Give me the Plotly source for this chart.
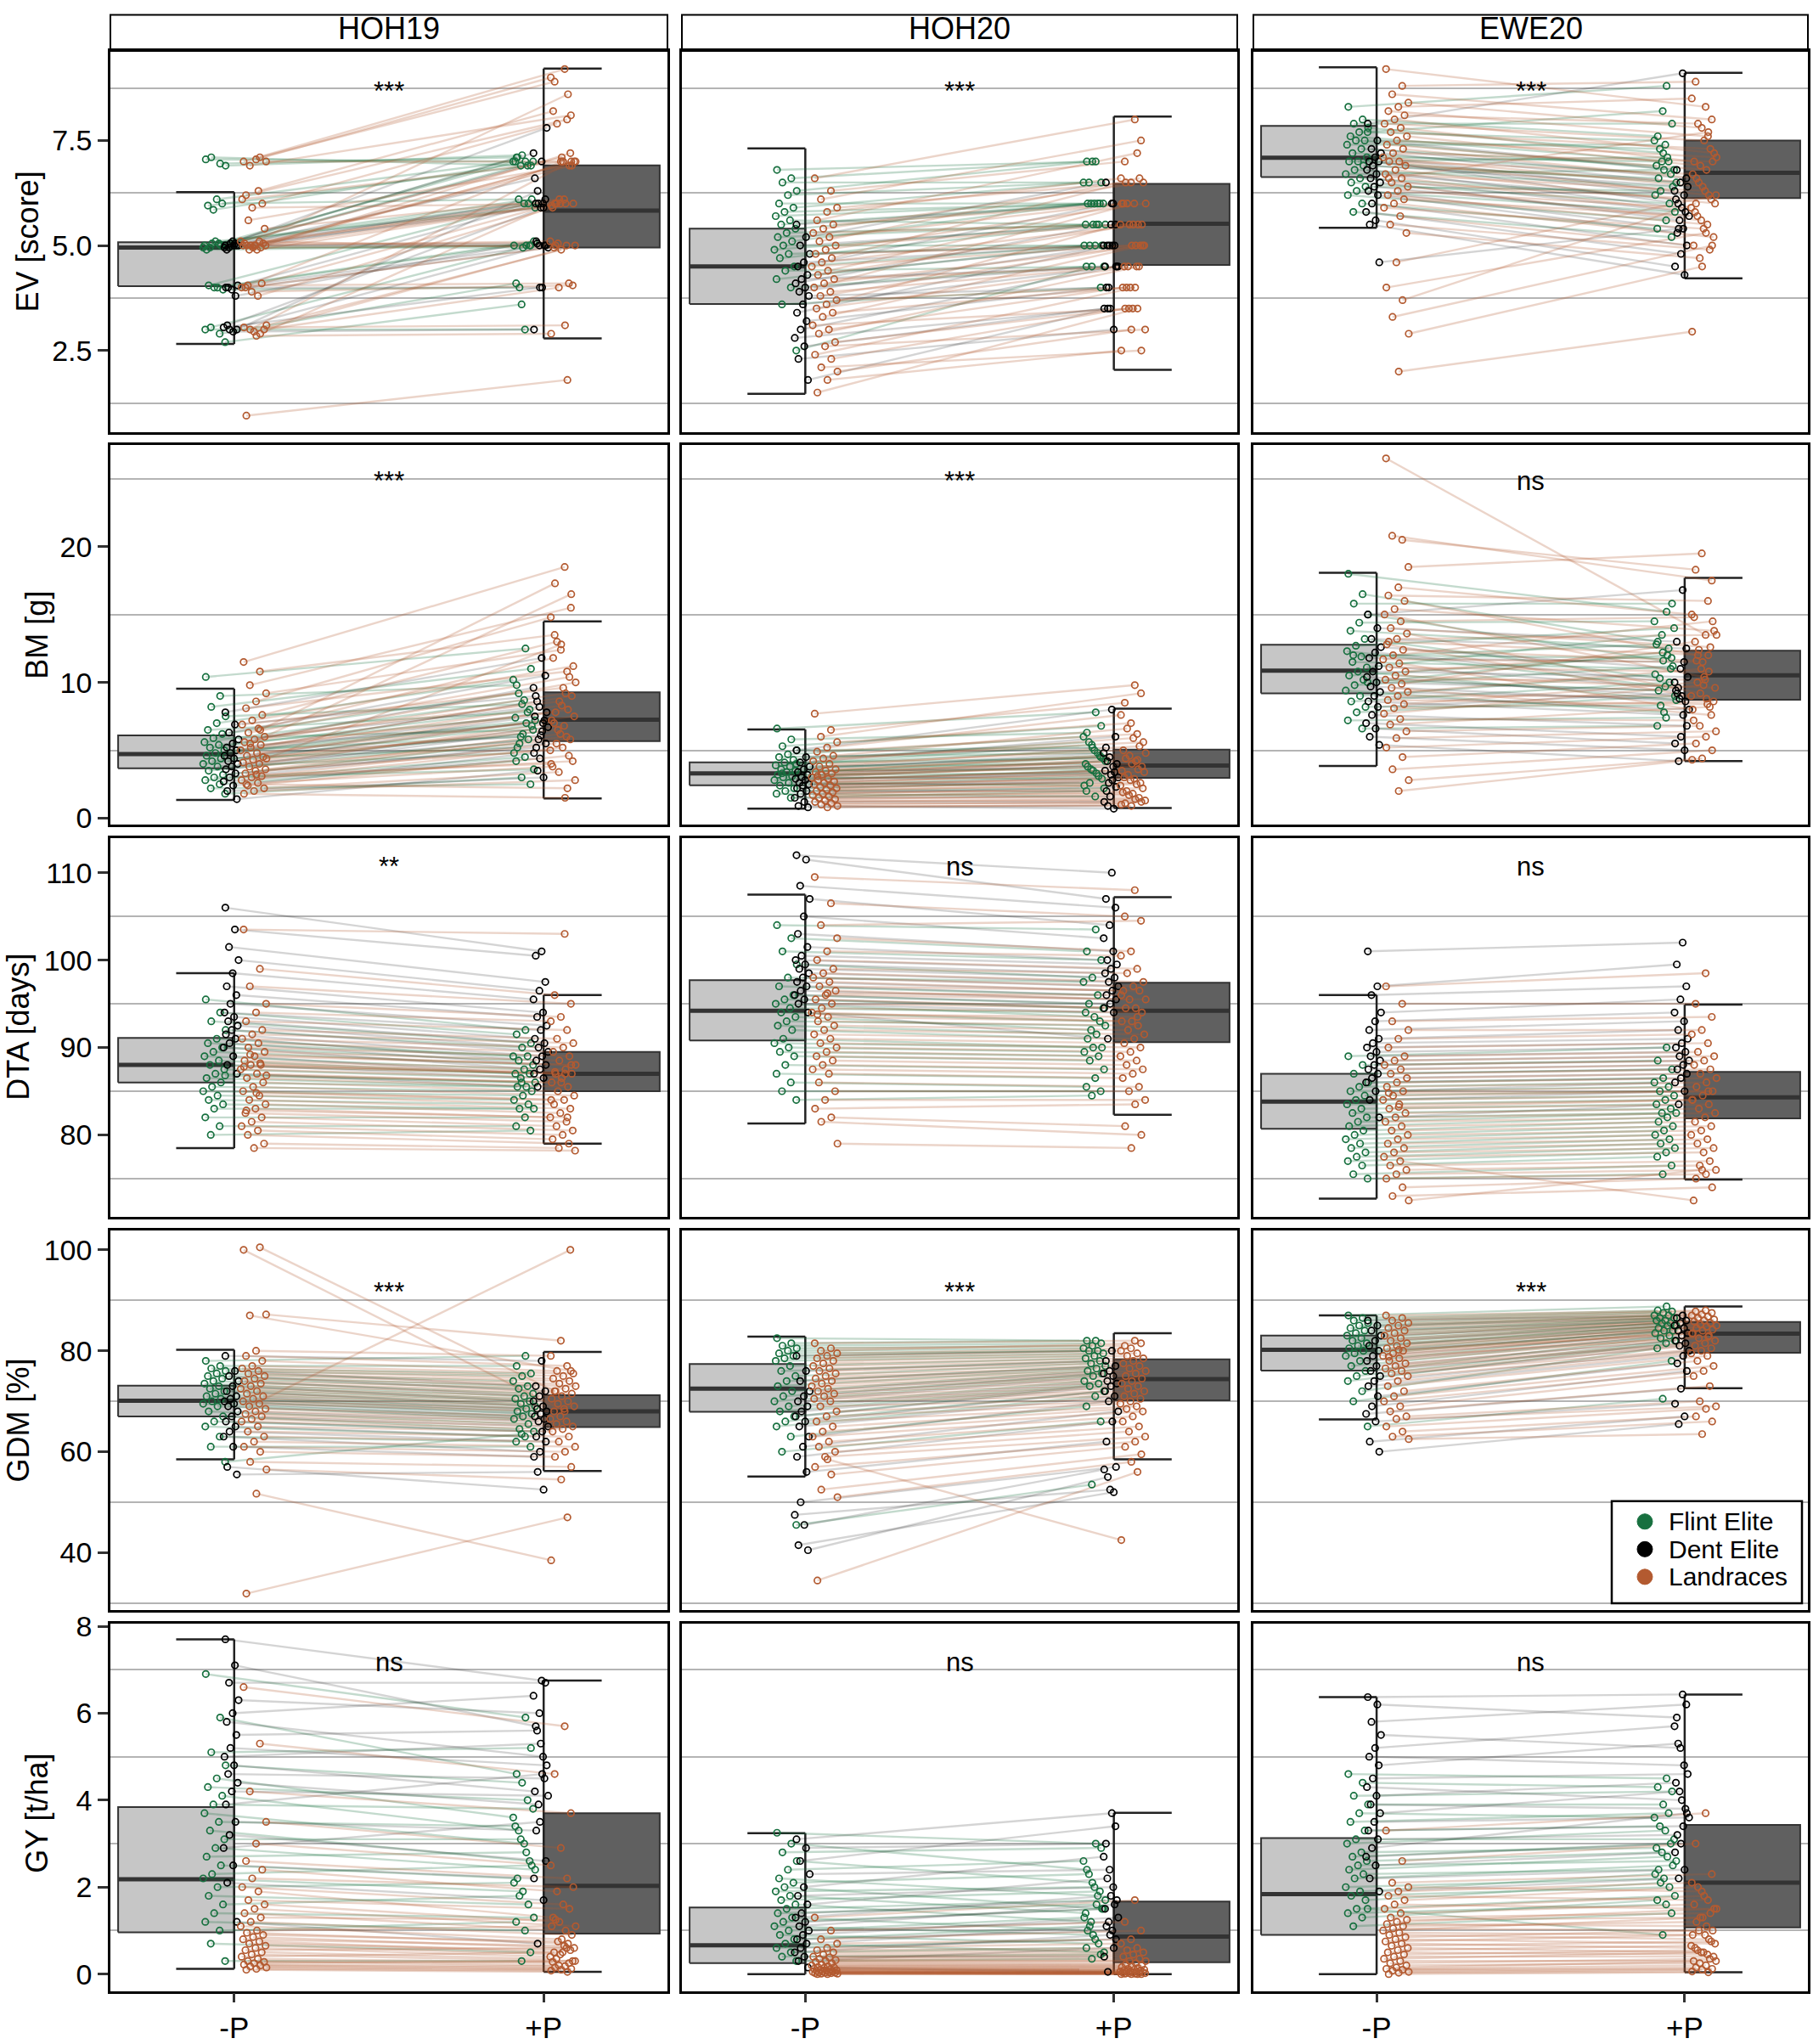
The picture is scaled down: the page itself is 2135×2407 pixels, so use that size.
import plotly.graph_objects as go

# canvas in pixels
W, H = 2135, 2407

ENVS = ["HOH19", "HOH20", "EWE20"]
TRAITS = ["EV", "BM", "DTA", "GDM", "GY"]
Y_TITLES = ["EV [score]", "BM [g]", "DTA [days]", "GDM [%]", "GY [t/ha]"]
GROUPS = ["Flint Elite", "Dent Elite", "Landraces"]
X_LABELS = ["-P", "+P"]

SIG_LABELS = [["***", "***", "***"], ["***", "***", "ns"], ["**", "ns", "ns"],
              ["***", "***", "***"], ["ns", "ns", "ns"]]
SIG_Y = [8.67, 24.8, 110.7, 91.6, 7.17]

Y_TICKS = [[2.5, 5.0, 7.5], [0, 10, 20], [80, 90, 100, 110], [40, 60, 80, 100], [0, 2, 4, 6, 8]]
Y_TICKTEXT = [["2.5", "5.0", "7.5"], ["0", "10", "20"], ["80", "90", "100", "110"],
              ["40", "60", "80", "100"], ["0", "2", "4", "6", "8"]]
Y_GRID = [[1.25, 3.75, 6.25, 8.75], [5, 15, 25], [75, 85, 95, 105], [30, 50, 70, 90], [1, 3, 5, 7]]
Y_RANGES = [[0.56, 9.63], [-0.5, 27.5], [70.6, 114.0], [28.65, 103.8], [-0.39, 8.06]]

# box statistics [lower whisker, q1, median, q3, upper whisker] for (-P, +P), per environment
EV_BOX = [([2.66, 4.03, 4.95, 5.08, 6.27], [2.79, 4.95, 5.83, 6.91, 9.21]),
          ([1.47, 3.61, 4.50, 5.40, 7.31], [2.04, 4.54, 5.52, 6.47, 8.07]),
          ([5.42, 6.63, 7.09, 7.85, 9.24], [4.22, 6.13, 6.73, 7.50, 9.11])]
BM_BOX = [([1.34, 3.68, 4.72, 6.10, 9.54], [1.46, 5.68, 7.25, 9.27, 14.49]),
          ([0.71, 2.42, 3.30, 4.11, 6.54], [0.75, 2.97, 3.88, 5.05, 8.06]),
          ([3.84, 9.20, 10.87, 12.77, 18.08], [4.20, 8.73, 10.52, 12.34, 17.70])]
DTA_BOX = [([78.5, 86.0, 88.0, 91.1, 98.5], [79.0, 85.0, 87.0, 89.5, 96.0]),
           ([81.3, 90.8, 94.2, 97.7, 107.5], [82.3, 90.6, 94.2, 97.4, 107.2]),
           ([72.7, 80.7, 83.8, 87.0, 96.0], [74.9, 81.9, 84.3, 87.2, 94.9])]
GDM_BOX = [([58.5, 67.0, 70.1, 73.1, 80.2], [56.2, 64.9, 68.0, 71.2, 79.8]),
           ([55.1, 67.9, 72.5, 77.4, 82.8], [58.5, 70.2, 74.4, 78.3, 83.5]),
           ([66.4, 76.1, 80.2, 83.0, 87.0], [72.6, 79.6, 83.4, 85.7, 88.8])]
GY_BOX = [([0.12, 0.96, 2.18, 3.84, 7.70], [0.05, 0.93, 2.03, 3.70, 6.75]),
          ([0.0, 0.25, 0.66, 1.53, 3.24], [0.0, 0.27, 0.86, 1.67, 3.71]),
          ([0.0, 0.90, 1.84, 3.13, 6.37], [0.04, 1.07, 2.10, 3.43, 6.43])]

# genotype values: (values under -P, values under +P), same order
EV_HOH19_FLINT = ([7.05, 6.95, 7.1, 6.9, 6.1, 5.95, 6.0, 5.85, 5.0, 5.05, 4.95, 5.0, 5.1, 4.9, 5.0, 5.05, 4.95, 4.0, 4.05, 3.95, 4.0, 3.0, 2.9, 3.05, 2.7],
                  [7.0, 7.1, 6.9, 7.15, 7.0, 6.9, 6.1, 7.0, 6.0, 7.0, 5.0, 6.9, 5.9, 5.0, 7.1, 6.1, 4.95, 5.0, 6.0, 4.0, 5.1, 3.0, 4.1, 5.0, 3.6])
EV_HOH19_DENT = ([5.0, 5.05, 4.95, 5.0, 5.1, 4.9, 5.0, 5.05, 4.95, 5.0, 4.0, 4.05, 3.95, 4.0, 3.8, 3.0, 3.05, 2.95, 3.1, 3.0],
                 [7.0, 6.0, 6.1, 5.0, 7.2, 6.0, 5.05, 7.8, 5.9, 6.6, 5.0, 6.0, 4.95, 4.0, 5.1, 5.0, 4.0, 3.0, 5.9, 6.3])
EV_HOH19_LAND = ([7.0, 7.1, 6.9, 7.0, 7.05, 6.2, 6.0, 5.9, 6.1, 6.3, 5.6, 5.4, 5.0, 5.05, 4.95, 5.0, 5.1, 4.9, 5.0, 5.05, 4.95, 5.0, 5.1, 4.9, 5.0, 5.0, 4.0, 4.1, 3.9, 4.0, 3.8, 4.05, 3.0, 2.95, 3.05, 2.9, 3.0, 3.1, 2.85, 0.95],
                 [9.2, 8.9, 8.1, 7.0, 9.0, 8.0, 7.9, 6.0, 7.0, 8.2, 6.9, 6.1, 7.0, 6.0, 5.0, 6.9, 7.1, 5.95, 8.6, 5.05, 7.0, 6.1, 4.95, 7.2, 6.0, 5.1, 5.0, 6.0, 4.05, 7.0, 5.9, 4.1, 4.0, 5.0, 3.1, 6.0, 7.0, 4.9, 2.9, 1.8])

EV_HOH20_FLINT = ([6.8, 6.6, 6.5, 6.3, 6.2, 6.0, 5.9, 5.8, 5.7, 5.6, 5.5, 5.4, 5.3, 5.2, 5.1, 5.0, 4.9, 4.8, 4.7, 4.5, 4.4, 4.2, 4.0, 3.6, 2.5],
                  [7.0, 7.0, 6.5, 7.0, 6.5, 6.0, 6.5, 6.0, 6.0, 5.5, 6.0, 6.0, 5.5, 5.5, 6.0, 5.0, 5.5, 5.0, 5.5, 5.0, 4.5, 5.0, 4.5, 4.0, 4.5])
EV_HOH20_DENT = ([5.5, 5.2, 5.0, 4.8, 4.6, 4.5, 4.3, 4.2, 4.1, 4.0, 3.9, 3.8, 3.6, 3.4, 3.2, 3.0, 2.8, 2.6, 2.3, 1.8],
                 [6.0, 6.5, 5.5, 5.0, 5.0, 6.0, 5.0, 4.5, 5.5, 4.5, 5.0, 4.0, 4.5, 5.0, 4.0, 4.5, 3.5, 3.5, 3.0, 3.5])
EV_HOH20_LAND = ([6.6, 6.3, 6.1, 5.9, 5.8, 5.6, 5.5, 5.4, 5.3, 5.2, 5.1, 5.0, 4.9, 4.8, 4.7, 4.6, 4.5, 4.4, 4.3, 4.2, 4.1, 4.0, 3.9, 3.8, 3.7, 3.6, 3.5, 3.4, 3.3, 3.1, 3.0, 2.9, 2.7, 2.6, 2.4, 2.3, 2.1, 2.0, 1.8, 1.5],
                 [8.0, 7.0, 7.5, 6.5, 6.6, 7.2, 6.0, 6.5, 5.5, 6.0, 6.6, 5.5, 6.0, 5.0, 6.5, 5.5, 5.0, 6.0, 5.5, 4.5, 5.0, 6.0, 4.5, 5.0, 4.0, 5.5, 4.5, 4.0, 5.0, 3.5, 4.0, 4.5, 3.5, 3.0, 4.0, 3.5, 2.5, 3.0, 2.5, 3.5])

EV_EWE20_FLINT = ([8.3, 8.0, 7.9, 7.8, 7.7, 7.6, 7.5, 7.5, 7.4, 7.3, 7.2, 7.1, 7.0, 7.0, 6.9, 6.8, 6.7, 6.6, 6.5, 6.4, 6.3, 6.2, 6.0, 5.8, 7.7],
                  [8.8, 7.6, 7.9, 7.2, 7.5, 7.0, 7.3, 6.8, 7.4, 6.9, 6.7, 7.0, 6.5, 7.1, 6.6, 6.4, 6.8, 6.2, 6.0, 6.3, 5.8, 5.6, 5.4, 5.2, 8.2])
EV_EWE20_DENT = ([7.9, 7.5, 7.3, 7.2, 7.1, 7.0, 7.0, 6.9, 6.8, 6.7, 6.6, 6.5, 6.4, 6.3, 6.2, 6.0, 5.8, 5.6, 5.5, 4.6],
                 [9.1, 6.8, 6.6, 6.5, 6.3, 6.2, 6.0, 6.4, 5.9, 6.1, 5.8, 5.6, 5.7, 5.4, 5.3, 5.0, 4.8, 4.5, 4.3, 5.4])
EV_EWE20_LAND = ([9.2, 8.8, 8.6, 8.4, 8.3, 8.2, 8.1, 8.0, 7.9, 7.8, 7.7, 7.6, 7.5, 7.4, 7.3, 7.2, 7.1, 7.0, 7.0, 6.9, 6.8, 6.7, 6.6, 6.5, 6.4, 6.3, 6.2, 6.1, 6.0, 5.9, 5.7, 5.5, 5.3, 4.6, 4.0, 3.7, 3.3, 2.9, 2.0, 6.6],
                 [8.3, 8.9, 8.0, 7.8, 8.5, 7.6, 7.9, 7.2, 7.5, 7.0, 7.3, 6.9, 7.1, 6.8, 6.6, 7.0, 6.4, 6.7, 6.2, 6.5, 6.0, 6.3, 5.8, 6.1, 5.6, 5.9, 5.5, 5.7, 5.2, 5.4, 5.0, 4.9, 4.7, 6.2, 5.3, 6.0, 5.0, 4.5, 2.95, 7.7])

BM_HOH19_FLINT = ([10.4, 9.0, 8.2, 7.5, 7.0, 6.5, 6.2, 5.9, 5.6, 5.4, 5.2, 5.0, 4.8, 4.6, 4.4, 4.2, 4.0, 3.8, 3.5, 3.2, 3.0, 2.8, 2.5, 2.2, 1.8],
                  [12.5, 9.8, 11.0, 8.4, 10.2, 7.8, 9.2, 6.5, 8.7, 7.4, 8.0, 6.0, 7.2, 7.0, 5.2, 6.8, 6.2, 4.8, 5.8, 5.5, 3.6, 4.5, 4.2, 2.5, 3.0])
BM_HOH19_DENT = ([7.8, 6.9, 6.3, 5.8, 5.5, 5.2, 5.0, 4.8, 4.6, 4.4, 4.2, 4.0, 3.8, 3.6, 3.3, 3.0, 2.7, 2.4, 2.0, 1.4],
                 [11.8, 9.0, 10.5, 8.2, 9.6, 7.0, 8.6, 7.8, 6.1, 7.5, 7.2, 5.8, 6.7, 6.4, 5.2, 5.5, 4.4, 4.8, 3.0, 3.5])
BM_HOH19_LAND = ([11.5, 10.8, 9.8, 9.2, 8.6, 8.1, 7.6, 7.2, 6.9, 6.6, 6.3, 6.0, 5.8, 5.6, 5.4, 5.2, 5.0, 4.8, 4.6, 4.5, 4.3, 4.1, 4.0, 3.8, 3.6, 3.5, 3.3, 3.1, 3.0, 2.8, 2.6, 2.4, 2.2, 2.0, 1.8, 6.5, 5.5, 4.4, 3.2, 2.5],
                 [18.5, 13.5, 15.5, 12.4, 14.8, 10.8, 13.0, 11.2, 9.6, 11.8, 10.4, 8.6, 10.0, 9.2, 7.8, 9.0, 8.3, 7.2, 8.0, 6.5, 7.5, 6.8, 7.0, 5.8, 6.2, 5.0, 6.0, 5.5, 4.2, 5.2, 3.8, 4.6, 3.4, 2.8, 1.5, 17.3, 16.5, 12.8, 4.0, 2.2])

BM_HOH20_FLINT = ([6.6, 5.8, 5.3, 5.0, 4.7, 4.5, 4.3, 4.1, 3.9, 3.8, 3.6, 3.5, 3.4, 3.2, 3.1, 3.0, 2.8, 2.6, 2.4, 2.2, 2.0, 1.8, 1.5, 3.3, 4.0],
                  [7.8, 6.3, 6.8, 5.2, 6.0, 4.8, 5.6, 4.4, 5.0, 4.0, 4.6, 3.6, 4.2, 3.3, 3.8, 2.9, 3.5, 2.4, 3.1, 2.6, 2.2, 1.6, 2.0, 4.5, 5.4])
BM_HOH20_DENT = ([5.0, 4.5, 4.1, 3.8, 3.6, 3.4, 3.2, 3.0, 2.9, 2.8, 2.6, 2.5, 2.4, 2.2, 2.0, 1.8, 1.5, 1.2, 0.9, 0.8],
                 [8.0, 5.2, 6.0, 4.5, 4.8, 3.8, 4.2, 4.0, 3.2, 3.5, 3.4, 2.6, 3.0, 2.8, 2.0, 2.3, 1.6, 1.2, 0.7, 0.9])
BM_HOH20_LAND = ([7.7, 6.5, 6.0, 5.6, 5.2, 4.9, 4.6, 4.4, 4.2, 4.0, 3.8, 3.6, 3.5, 3.4, 3.3, 3.2, 3.0, 2.9, 2.8, 2.7, 2.6, 2.5, 2.4, 2.3, 2.2, 2.1, 2.0, 1.9, 1.8, 1.7, 1.6, 1.5, 1.4, 1.3, 1.2, 1.1, 1.0, 0.9, 0.8, 3.1],
                 [9.8, 8.5, 9.2, 7.0, 7.6, 6.2, 6.6, 5.6, 5.9, 5.0, 5.3, 4.6, 4.8, 4.2, 4.4, 3.8, 4.0, 3.5, 3.6, 3.2, 3.4, 2.9, 3.0, 2.6, 2.8, 2.4, 2.5, 2.0, 2.2, 1.8, 1.9, 1.5, 1.7, 1.3, 1.4, 1.1, 1.2, 0.9, 1.0, 4.3])

BM_EWE20_FLINT = ([18.0, 16.5, 15.8, 15.0, 14.4, 13.8, 13.2, 12.7, 12.3, 11.9, 11.5, 11.1, 10.8, 10.5, 10.2, 9.8, 9.4, 9.0, 8.6, 8.2, 7.8, 7.2, 6.6, 12.0, 10.0],
                  [15.2, 13.0, 15.8, 11.6, 14.5, 12.5, 10.3, 14.0, 9.7, 12.8, 11.0, 13.5, 8.7, 12.0, 9.4, 11.2, 7.8, 10.6, 10.0, 8.3, 9.0, 7.4, 6.8, 11.8, 12.2])
BM_EWE20_DENT = ([15.0, 14.0, 13.2, 12.6, 12.2, 11.8, 11.2, 10.8, 10.4, 10.0, 9.7, 9.3, 9.0, 8.6, 8.2, 7.6, 7.0, 6.6, 6.0, 5.4],
                 [16.8, 13.0, 12.5, 11.0, 10.0, 11.5, 9.6, 10.4, 9.0, 9.4, 8.6, 8.8, 8.0, 7.6, 9.2, 6.8, 6.0, 5.5, 5.0, 4.2])
BM_EWE20_LAND = ([26.5, 20.5, 20.8, 18.5, 17.0, 16.4, 16.0, 15.4, 15.0, 14.5, 14.0, 13.6, 13.2, 12.8, 12.4, 12.0, 11.7, 11.4, 11.1, 10.8, 10.5, 10.2, 9.9, 9.6, 9.3, 9.0, 8.7, 8.4, 8.1, 7.7, 7.3, 6.9, 6.4, 5.9, 5.2, 4.5, 3.6, 2.8, 2.0, 13.0],
                 [13.5, 18.3, 17.5, 19.5, 15.0, 16.0, 12.0, 13.8, 10.4, 14.8, 12.6, 9.2, 13.5, 8.8, 11.6, 14.5, 11.5, 8.0, 10.8, 12.4, 9.6, 10.2, 13.0, 7.6, 11.0, 9.0, 8.4, 10.0, 8.6, 9.8, 7.2, 8.2, 6.8, 6.4, 6.0, 5.5, 5.0, 4.4, 4.3, 12.0])

DTA_HOH19_FLINT = ([95.5, 94, 93, 92, 91, 90.5, 90, 89.5, 89, 88.5, 88, 87.5, 87, 86.5, 86, 85.5, 85, 84.5, 84, 83.5, 83, 82, 81, 80, 86.8],
                   [92, 91.5, 90.5, 90, 89, 89, 88.5, 88, 87.5, 87, 87, 86.5, 86, 85.5, 85.5, 85, 84.5, 84, 83.5, 83, 83, 82, 81, 80.5, 86])
DTA_HOH19_DENT = ([106, 103.5, 101.5, 100, 98.5, 97, 96, 95, 94, 93.5, 93, 92.5, 92, 91.5, 91, 90.5, 90, 89, 88, 87],
                  [101, 100.5, 97.5, 96.5, 95.5, 94, 93.5, 92.5, 92, 91, 90.5, 90, 89.5, 89, 88.5, 88, 87.5, 87, 86.5, 85.5])
DTA_HOH19_LAND = ([103.5, 99, 97, 95, 94, 93, 92, 91.5, 91, 90.5, 90, 89.5, 89, 88.5, 88, 88, 87.5, 87, 86.5, 86, 85.5, 85, 84.5, 84, 83.5, 83, 82.5, 82, 81.5, 81, 80.5, 80, 79, 78.5, 87.8, 88.2, 89.2, 86.8, 84.8, 82.8],
                  [103, 96, 95, 93.5, 93, 92, 91, 90.5, 90, 89.5, 89, 88.5, 88, 87.5, 87, 87, 86.5, 86, 85.5, 85, 84.5, 84, 83.5, 83, 82.5, 82, 81.5, 81, 80.5, 80, 79.5, 79, 78.5, 78.2, 87, 87.2, 88, 86, 84, 82])

DTA_HOH20_FLINT = ([104, 102.5, 101, 99.5, 98, 97, 96, 95.5, 95, 94.5, 94, 93.5, 93, 92.5, 92, 91, 90.5, 90, 89.5, 89, 88, 87, 86, 85, 84],
                   [103.5, 101, 100, 98, 97.5, 96, 95, 94.5, 93.5, 94, 93, 92, 92.5, 91.5, 91, 90, 90, 89.5, 89, 88.5, 87.5, 86.5, 85.5, 85, 84.5])
DTA_HOH20_DENT = ([112, 111.5, 108.5, 107, 105, 103, 101.5, 100.5, 100, 99.5, 99, 98.5, 98, 97.5, 97, 96.5, 96, 95.5, 95, 94],
                  [110, 107, 106, 104, 102.5, 101, 100, 99.5, 99, 98.5, 98, 97.5, 97, 96.5, 96, 95.5, 95, 94.5, 94, 91])
DTA_HOH20_LAND = ([109.5, 106.5, 104, 102.5, 101, 100, 99, 98.5, 98, 97.5, 97, 96.5, 96, 95.5, 95, 94.5, 94, 93.5, 93, 92.5, 92, 91.5, 91, 90.5, 90, 89.5, 89, 88.5, 88, 87.5, 87, 86, 85, 84, 83, 82, 81.5, 79, 96.2, 93.8],
                  [108, 105, 104.5, 101, 100.5, 99, 98.5, 97.5, 97, 96.5, 96.5, 95.5, 95.5, 94.5, 94.5, 94, 93, 93, 92.5, 92, 91.5, 91, 90.5, 90, 89.5, 89, 88.5, 88, 87.5, 87, 86.5, 85.5, 85, 84, 83.5, 81, 80, 78.5, 96, 93.5])

DTA_EWE20_FLINT = ([89, 88, 87, 86, 85.5, 85, 84.5, 84, 83.5, 83, 82.5, 82, 81.5, 81, 80.5, 80, 79.5, 79, 78.5, 78, 77.5, 77, 76.5, 75.5, 75],
                   [90, 88.5, 87.5, 86.5, 86, 85.5, 85, 84.5, 84, 83.5, 83, 82.5, 82.5, 82, 81.5, 81, 80.5, 80, 79.5, 79, 78.5, 78, 77.5, 76.5, 75.5])
DTA_EWE20_DENT = ([101, 97, 96, 94, 93, 92, 91, 90.5, 90, 89.5, 89, 88.5, 88, 87.5, 87, 86.5, 86, 85, 84, 82],
                  [102, 99.5, 97, 95.5, 94, 93, 92, 91, 90.5, 90, 89.5, 89, 88.5, 88, 87.5, 87, 86.5, 86, 85, 83.5])
DTA_EWE20_LAND = ([97, 95, 93, 92, 91, 90, 89, 88.5, 88, 87.5, 87, 86.5, 86, 85.5, 85, 84.5, 84, 83.5, 83, 82.5, 82, 81.5, 81, 80.5, 80, 79.5, 79, 78.5, 78, 77.5, 77, 76.5, 76, 75.5, 75, 74, 73, 72.5, 83.2, 84.8],
                  [98.5, 95, 93.5, 92, 91.5, 90.5, 89.5, 89, 88.5, 88, 87.5, 87, 86.5, 86, 85.5, 85, 84.5, 84, 83.5, 83, 82.5, 82, 81.5, 81, 80.5, 80, 79.5, 79, 78.5, 78, 72.5, 77, 76.5, 76, 75.5, 75, 74, 76, 84, 85])

GDM_HOH19_FLINT = ([78, 77, 76.5, 76, 75.5, 75, 74.5, 74, 73.5, 73, 72.5, 72, 71.5, 71, 70.5, 70, 69.5, 69, 68, 67, 66, 65, 63, 61, 58],
                   [79, 77, 75.5, 75, 74, 73, 72.5, 71.5, 71, 70.5, 70, 69.5, 69, 68.5, 68, 67.5, 67, 66.5, 65.5, 64.5, 64, 63, 62, 61, 63.5])
GDM_HOH19_DENT = ([79, 76, 75, 74, 73, 72, 71, 70.5, 70, 69.5, 69, 68, 67, 66, 65, 64, 63, 61, 57, 55.5],
                  [78, 73, 72, 71, 70, 69, 68.5, 68, 67.5, 67, 66.5, 66, 65, 64, 63, 62, 60, 59, 52.5, 56])
GDM_HOH19_LAND = ([100, 100.5, 87, 87.2, 80, 79, 78, 77, 76.5, 76, 75.5, 75, 74.5, 74, 73.5, 73, 72.5, 72, 71.5, 71, 70.5, 70, 69.5, 69, 68.5, 68, 67.5, 67, 66.5, 66, 65, 64, 63, 62, 61, 60, 58, 56.5, 51.7, 31.9],
                  [68, 72, 76, 82, 79, 77, 76, 75.5, 75, 74.5, 74, 73.5, 73, 72.5, 72, 71.5, 71, 70.5, 70, 69.5, 69, 68.5, 68, 100, 67, 66.5, 66, 65.5, 65, 64.5, 64, 63, 62, 61, 60, 59, 57, 54.5, 38.5, 47])

GDM_HOH20_FLINT = ([82.5, 81.5, 81, 80.5, 80, 79.5, 79, 78.5, 78, 77, 76, 75, 74, 73, 72, 71, 70, 69, 68, 67, 66, 65, 63, 60, 45.5],
                   [82, 82, 81.5, 81, 80.5, 80, 80, 79.5, 79, 78.5, 78, 77.5, 77, 76.5, 76, 75.5, 75, 74, 73.5, 73, 72, 71, 69, 66, 53.5])
GDM_HOH20_DENT = ([79, 76, 74, 72, 71, 70, 69, 68, 67, 66, 65, 63, 61, 59, 56, 50, 47.5, 45.5, 41.5, 40.5],
                  [80, 78, 77, 76, 75.5, 75, 74, 73.5, 73, 72, 71, 70, 68, 66, 62, 57, 52.5, 56.5, 52, 55])
GDM_HOH20_LAND = ([81.5, 80.5, 80, 79.5, 79, 78.5, 78, 77.5, 77, 76.5, 76, 75.5, 75, 74.5, 74, 73.5, 73, 72.5, 72, 71.5, 71, 70.5, 70, 69, 68, 67, 66, 65, 64, 63, 62, 61, 60, 59, 57, 55.5, 52.5, 51, 58.5, 34.5],
                  [82, 81, 81.5, 80.5, 80, 79.5, 79, 78.5, 78, 77.5, 77, 76.5, 76, 75.5, 75, 74.5, 74, 73.5, 73, 72.5, 72, 71.5, 71, 70.5, 70, 69.5, 69, 68.5, 68, 67, 66, 65, 64, 63, 62, 61, 59.5, 58, 42.5, 56])

GDM_EWE20_FLINT = ([87, 86.5, 86, 85.5, 85, 84.5, 84, 83.5, 83, 82.5, 82, 81.5, 81, 80.5, 80, 79.5, 79, 78, 77, 76, 75, 74, 72, 70, 65],
                   [88.8, 88, 87.8, 87.5, 87, 87, 86.5, 86.5, 86, 86, 85.5, 85.5, 85, 85, 84.5, 84, 84, 83.5, 83, 82.5, 82, 81.5, 80.5, 78, 70.5])
GDM_EWE20_DENT = ([86, 85, 84, 83, 82, 81, 80, 79, 78, 77, 76, 75, 74, 73, 71, 69, 67.5, 66, 62, 60],
                  [87, 86.5, 86, 85.5, 85, 84.5, 84, 83.5, 83, 82, 81.5, 81, 80, 79, 77.5, 76, 72.5, 69.5, 67, 65.5])
GDM_EWE20_LAND = ([87, 86.5, 86, 85.5, 85, 84.5, 84, 83.5, 83, 82.5, 82, 81.5, 81, 80.5, 80, 79.5, 79, 78.5, 78, 77.5, 77, 76.5, 76, 75.5, 75, 74, 73, 72, 71, 70, 69, 68, 67, 66.5, 65, 64, 63, 62.5, 80.2, 78.8],
                  [88, 87.8, 87.5, 87.2, 87, 86.8, 86.5, 86.2, 86, 85.8, 85.5, 85.2, 85, 84.8, 84.5, 84.2, 84, 83.5, 83, 82.5, 82, 81.5, 81, 80.5, 80, 79.5, 79, 78, 77, 76, 75, 73, 70, 69, 68.5, 67, 66, 63.5, 83.4, 82.8])

GY_HOH19_FLINT = ([6.9, 5.9, 5.1, 4.8, 4.5, 4.3, 4.1, 3.9, 3.7, 3.5, 3.3, 3.1, 2.9, 2.7, 2.5, 2.3, 2.2, 2.0, 1.8, 1.6, 1.4, 1.2, 1.0, 0.7, 0.3],
                  [5.9, 4.6, 5.2, 4.4, 3.6, 4.0, 3.3, 3.8, 3.0, 3.4, 2.6, 3.1, 2.4, 2.8, 2.2, 2.5, 1.9, 2.1, 1.6, 1.8, 1.3, 1.0, 1.2, 0.5, 0.3])
GY_HOH19_DENT = ([7.7, 7.1, 6.7, 6.3, 6.0, 5.8, 5.5, 5.2, 5.0, 4.8, 4.6, 4.4, 4.2, 3.9, 3.5, 3.2, 2.9, 2.5, 2.1, 1.2],
                 [6.75, 5.7, 6.7, 6.0, 6.4, 5.0, 5.6, 4.8, 5.3, 4.2, 4.5, 3.9, 4.1, 4.6, 3.3, 2.6, 3.5, 2.2, 1.7, 0.7])
GY_HOH19_LAND = ([6.6, 5.3, 4.2, 3.5, 3.0, 2.6, 2.4, 2.2, 2.0, 1.9, 1.7, 1.6, 1.5, 1.4, 1.3, 1.2, 1.1, 1.0, 0.95, 0.9, 0.85, 0.8, 0.75, 0.7, 0.65, 0.6, 0.55, 0.5, 0.45, 0.4, 0.35, 0.3, 0.28, 0.25, 0.22, 0.2, 0.18, 0.15, 0.12, 0.1],
                 [5.7, 4.6, 3.7, 2.9, 2.5, 2.2, 1.9, 2.0, 1.6, 1.3, 1.5, 1.2, 1.1, 1.0, 1.25, 0.9, 0.8, 1.1, 0.7, 0.75, 0.6, 0.65, 0.5, 0.55, 0.45, 0.4, 0.6, 0.35, 0.3, 0.5, 0.28, 0.25, 0.2, 0.3, 0.18, 0.15, 0.12, 0.1, 0.08, 0.05])

GY_HOH20_FLINT = ([3.25, 3.0, 2.8, 2.6, 2.4, 2.2, 2.1, 2.0, 1.9, 1.8, 1.7, 1.6, 1.5, 1.4, 1.3, 1.2, 1.1, 1.0, 0.9, 0.8, 0.7, 0.6, 0.5, 0.4, 0.3],
                  [3.0, 2.4, 2.9, 2.1, 2.6, 1.8, 2.3, 1.5, 2.0, 1.4, 1.9, 1.2, 1.7, 1.6, 1.0, 1.5, 0.9, 1.3, 0.7, 1.1, 0.5, 0.8, 0.6, 0.45, 0.35])
GY_HOH20_DENT = ([3.1, 2.9, 2.6, 2.3, 2.0, 1.8, 1.6, 1.4, 1.3, 1.2, 1.1, 1.0, 0.9, 0.8, 0.7, 0.6, 0.5, 0.4, 0.3, 0.15],
                 [3.7, 3.0, 3.4, 2.4, 2.7, 2.0, 2.2, 1.7, 1.8, 1.5, 1.6, 1.2, 1.3, 1.0, 1.1, 0.8, 0.9, 0.4, 0.6, 0.05])
GY_HOH20_LAND = ([1.3, 1.0, 0.8, 0.7, 0.6, 0.55, 0.5, 0.45, 0.4, 0.38, 0.35, 0.32, 0.3, 0.28, 0.25, 0.22, 0.2, 0.18, 0.16, 0.15, 0.14, 0.12, 0.11, 0.1, 0.09, 0.08, 0.07, 0.06, 0.05, 0.05, 0.04, 0.04, 0.03, 0.03, 0.02, 0.02, 0.01, 0.01, 0.0, 0.0],
                 [1.7, 1.2, 1.0, 0.8, 0.7, 0.6, 0.55, 0.5, 0.45, 0.4, 0.35, 0.3, 0.3, 0.25, 0.22, 0.2, 0.18, 0.16, 0.14, 0.12, 0.1, 0.1, 0.09, 0.08, 0.07, 0.06, 0.05, 0.05, 0.04, 0.04, 0.03, 0.03, 0.02, 0.02, 0.01, 0.01, 0.0, 0.0, 0.0, 0.0])

GY_EWE20_FLINT = ([4.6, 4.4, 4.1, 3.9, 3.7, 3.5, 3.3, 3.1, 3.0, 2.8, 2.7, 2.6, 2.5, 2.4, 2.3, 2.2, 2.0, 1.9, 1.8, 1.7, 1.5, 1.4, 1.3, 1.1, 1.5],
                  [4.5, 4.3, 4.2, 3.9, 3.6, 3.7, 3.4, 3.1, 3.3, 2.9, 3.0, 2.8, 2.6, 2.7, 2.4, 2.5, 2.2, 2.3, 2.0, 2.1, 1.8, 1.6, 1.7, 1.4, 0.9])
GY_EWE20_DENT = ([6.37, 6.2, 5.8, 5.5, 5.2, 5.0, 4.8, 4.5, 4.3, 4.1, 3.9, 3.7, 3.5, 3.3, 3.1, 2.9, 2.7, 2.5, 2.2, 1.9],
                 [6.43, 5.9, 6.2, 5.2, 5.7, 4.8, 5.3, 4.6, 4.0, 4.4, 3.8, 4.2, 3.6, 3.4, 3.2, 3.7, 3.0, 2.8, 2.4, 2.2])
GY_EWE20_LAND = ([3.3, 2.6, 2.1, 2.0, 1.9, 1.8, 1.7, 1.6, 1.5, 1.4, 1.3, 1.25, 1.2, 1.15, 1.1, 1.05, 1.0, 0.95, 0.9, 0.85, 0.8, 0.75, 0.7, 0.65, 0.6, 0.55, 0.5, 0.45, 0.4, 0.35, 0.3, 0.25, 0.2, 0.15, 0.12, 0.1, 0.08, 0.05, 0.03, 0.0],
                 [3.7, 3.0, 2.3, 1.9, 2.1, 1.7, 2.0, 1.5, 1.8, 1.6, 1.4, 1.3, 1.5, 1.1, 1.2, 1.0, 1.3, 0.9, 0.8, 1.0, 0.7, 0.9, 0.6, 0.75, 0.5, 0.65, 0.45, 0.55, 0.4, 0.5, 0.3, 0.35, 0.25, 0.3, 0.2, 0.15, 0.12, 0.1, 0.06, 0.04])

# rows = traits, columns = environments
BOXES = [EV_BOX, BM_BOX, DTA_BOX, GDM_BOX, GY_BOX]
DATA = [
    [(EV_HOH19_FLINT, EV_HOH19_DENT, EV_HOH19_LAND), (EV_HOH20_FLINT, EV_HOH20_DENT, EV_HOH20_LAND), (EV_EWE20_FLINT, EV_EWE20_DENT, EV_EWE20_LAND)],
    [(BM_HOH19_FLINT, BM_HOH19_DENT, BM_HOH19_LAND), (BM_HOH20_FLINT, BM_HOH20_DENT, BM_HOH20_LAND), (BM_EWE20_FLINT, BM_EWE20_DENT, BM_EWE20_LAND)],
    [(DTA_HOH19_FLINT, DTA_HOH19_DENT, DTA_HOH19_LAND), (DTA_HOH20_FLINT, DTA_HOH20_DENT, DTA_HOH20_LAND), (DTA_EWE20_FLINT, DTA_EWE20_DENT, DTA_EWE20_LAND)],
    [(GDM_HOH19_FLINT, GDM_HOH19_DENT, GDM_HOH19_LAND), (GDM_HOH20_FLINT, GDM_HOH20_DENT, GDM_HOH20_LAND), (GDM_EWE20_FLINT, GDM_EWE20_DENT, GDM_EWE20_LAND)],
    [(GY_HOH19_FLINT, GY_HOH19_DENT, GY_HOH19_LAND), (GY_HOH20_FLINT, GY_HOH20_DENT, GY_HOH20_LAND), (GY_EWE20_FLINT, GY_EWE20_DENT, GY_EWE20_LAND)],
]

# styling
FONT = "Liberation Sans, Arial, Helvetica, sans-serif"
GROUP_COLORS = ["#17703f", "#000000", "#b35a30"]
LINE_COLORS = ["rgba(23,112,63,0.26)", "rgba(0,0,0,0.17)", "rgba(179,90,48,0.26)"]
OFFSETS = [-0.064, -0.01, 0.062]
SPREADS = [0.075, 0.05, 0.085]
BOX_FILL = ["#c6c6c6", "#606060"]
BOX_W = 0.375

# panel pixel positions (as measured on the target picture)
COL_X = [(130, 786), (803, 1457), (1476, 2129)]
ROW_Y = [(58, 506), (521, 968), (983, 1429), (1445, 1891), (1907, 2354)]
TITLE_X = [32, 44, 22, 22, 44]
LAST_AXIS_MAX = 2358  # keeps the -P / +P labels inside the canvas

# the captured page comes out slightly squeezed vertically and shifted down;
# vy() maps a wanted vertical pixel to the figure pixel that lands there
CAPTURE_SHIFT, CAPTURE_SCALE = 14.0, 0.986


def vy(p):
    return max(0.0, (p - CAPTURE_SHIFT) / CAPTURE_SCALE)


def px_x(p):
    return p / W


def px_y(p):
    return 1 - vy(p) / H


def spread(i, center, width, phase):
    # deterministic spreading of points around the category position
    f = (i * 0.6180339887 + phase) % 1.0
    return center + width * (f - 0.5)


fig = go.Figure()
axes = {}
annotations = []
shapes = []

for r in range(len(TRAITS)):
    for c in range(len(ENVS)):
        idx = r * 3 + c + 1
        sfx = "" if idx == 1 else str(idx)
        xr, yr = "x" + sfx, "y" + sfx

        # half boxes
        for k, (lo, q1, med, q3, hi) in enumerate(BOXES[r][c]):
            base = k + 1
            if k == 0:
                x0, x1, cap = base - BOX_W, base, base - BOX_W / 2
            else:
                x0, x1, cap = base, base + BOX_W, base + BOX_W / 2
            fig.add_trace(go.Scatter(x=[x0, x1, x1, x0, x0], y=[q1, q1, q3, q3, q1], mode="lines",
                                     fill="toself", fillcolor=BOX_FILL[k],
                                     line=dict(color="#333333", width=2),
                                     xaxis=xr, yaxis=yr, showlegend=False, hoverinfo="skip"))
            fig.add_trace(go.Scatter(x=[x0, x1], y=[med, med], mode="lines",
                                     line=dict(color="#333333", width=5),
                                     xaxis=xr, yaxis=yr, showlegend=False, hoverinfo="skip"))
            fig.add_trace(go.Scatter(x=[base, base, None, cap, base, None, cap, base],
                                     y=[lo, hi, None, lo, lo, None, hi, hi], mode="lines",
                                     line=dict(color="#222222", width=2.5),
                                     xaxis=xr, yaxis=yr, showlegend=False, hoverinfo="skip"))

        # positions for each genotype
        positions = []
        for g, (minus, plus) in enumerate(DATA[r][c]):
            xm = [spread(i, 1 + OFFSETS[g], SPREADS[g], 0.13) for i in range(len(minus))]
            xp = [spread(i, 2 + OFFSETS[g], SPREADS[g], 0.57) for i in range(len(plus))]
            positions.append((xm, xp))

        # connecting lines
        for g, (minus, plus) in enumerate(DATA[r][c]):
            xm, xp = positions[g]
            lx, ly = [], []
            for a, b, va, vb in zip(xm, xp, minus, plus):
                lx += [a, b, None]
                ly += [va, vb, None]
            fig.add_trace(go.Scatter(x=lx, y=ly, mode="lines",
                                     line=dict(color=LINE_COLORS[g], width=2.4),
                                     xaxis=xr, yaxis=yr, showlegend=False, hoverinfo="skip"))

        # points
        for g, (minus, plus) in enumerate(DATA[r][c]):
            xm, xp = positions[g]
            fig.add_trace(go.Scatter(x=xm + xp, y=list(minus) + list(plus), mode="markers",
                                     marker=dict(symbol="circle-open", size=7.5, color=GROUP_COLORS[g],
                                                 line=dict(width=1.7, color=GROUP_COLORS[g])),
                                     xaxis=xr, yaxis=yr, showlegend=False, hoverinfo="skip"))

        x0p, x1p = COL_X[c]
        top, bot = ROW_Y[r]
        bot_fig = min(vy(bot), LAST_AXIS_MAX)
        axes["xaxis" + sfx] = dict(
            domain=[px_x(x0p), px_x(x1p)], range=[0.6, 2.4], anchor=yr,
            showgrid=False, zeroline=False, showline=True, mirror=True,
            linecolor="black", linewidth=2.5,
            tickmode="array", tickvals=[1, 2], ticktext=X_LABELS,
            showticklabels=(r == 4), ticks="outside" if r == 4 else "",
            ticklen=11, tickwidth=2.5, tickcolor="#333333",
            tickfont=dict(size=35, color="black", family=FONT),
        )
        axes["yaxis" + sfx] = dict(
            domain=[1 - bot_fig / H, px_y(top)], range=Y_RANGES[r], anchor=xr,
            showgrid=False, zeroline=False, showline=True, mirror=True,
            linecolor="black", linewidth=2.5,
            tickmode="array", tickvals=Y_TICKS[r], ticktext=Y_TICKTEXT[r],
            showticklabels=(c == 0), ticks="outside" if c == 0 else "",
            ticklen=12, tickwidth=2.5, tickcolor="#333333",
            tickfont=dict(size=34, color="black", family=FONT),
            minor=dict(tickmode="array", tickvals=Y_GRID[r], showgrid=True,
                       gridcolor="#b4b4b4", gridwidth=2, ticks=""),
        )

        annotations.append(dict(x=1.5, y=SIG_Y[r], xref=xr, yref=yr, text=SIG_LABELS[r][c],
                                showarrow=False, xanchor="center", yanchor="middle",
                                font=dict(size=31, color="black", family=FONT)))

    # y axis title for the row
    annotations.append(dict(x=px_x(TITLE_X[r]), y=px_y(sum(ROW_Y[r]) / 2), xref="paper", yref="paper",
                            text=Y_TITLES[r], textangle=-90, showarrow=False,
                            xanchor="center", yanchor="middle",
                            font=dict(size=36, color="black", family=FONT)))

# facet strips
for c, env in enumerate(ENVS):
    x0p, x1p = COL_X[c]
    shapes.append(dict(type="rect", xref="paper", yref="paper",
                       x0=px_x(x0p), x1=px_x(x1p), y0=px_y(58), y1=1 - 1.5 / H,
                       line=dict(color="black", width=2), fillcolor="white"))
    shapes.append(dict(type="line", xref="paper", yref="paper",
                       x0=px_x(x0p), x1=px_x(x1p), y0=px_y(57), y1=px_y(57),
                       line=dict(color="black", width=4)))
    annotations.append(dict(x=px_x((x0p + x1p) / 2), y=px_y(31), xref="paper", yref="paper",
                            text=env, showarrow=False, xanchor="center", yanchor="middle",
                            font=dict(size=36, color="black", family=FONT)))

# legend drawn inside the GDM / EWE20 panel
shapes.append(dict(type="rect", xref="paper", yref="paper",
                   x0=px_x(1898), x1=px_x(2122), y0=px_y(1883), y1=px_y(1763),
                   line=dict(color="black", width=2.5), fillcolor="white"))
for g, name in enumerate(GROUPS):
    yc = 1787 + g * 32.5
    shapes.append(dict(type="circle", xref="paper", yref="paper",
                       x0=px_x(1928), x1=px_x(1946), y0=px_y(yc + 9), y1=px_y(yc - 9),
                       line=dict(color=GROUP_COLORS[g], width=1), fillcolor=GROUP_COLORS[g]))
    annotations.append(dict(x=px_x(1963), y=px_y(yc), xref="paper", yref="paper",
                            text=name, showarrow=False, xanchor="left", yanchor="middle",
                            font=dict(size=30, color="black", family=FONT)))

fig.update_layout(
    width=W, height=H,
    margin=dict(l=0, r=0, t=0, b=0),
    plot_bgcolor="white", paper_bgcolor="white",
    font=dict(family=FONT, color="black"),
    showlegend=False,
    annotations=annotations,
    shapes=shapes,
    **axes,
)

# pin the figure to the top-left corner of the page, without page margins
pin = ("var gd = document.getElementById('{plot_id}');"
       "document.body.style.margin = '0px';"
       "document.body.style.overflow = 'hidden';"
       "gd.style.position = 'absolute'; gd.style.left = '0px'; gd.style.top = '0px';")
fig.write_html("out.html", config={"displayModeBar": False}, post_script=pin)
